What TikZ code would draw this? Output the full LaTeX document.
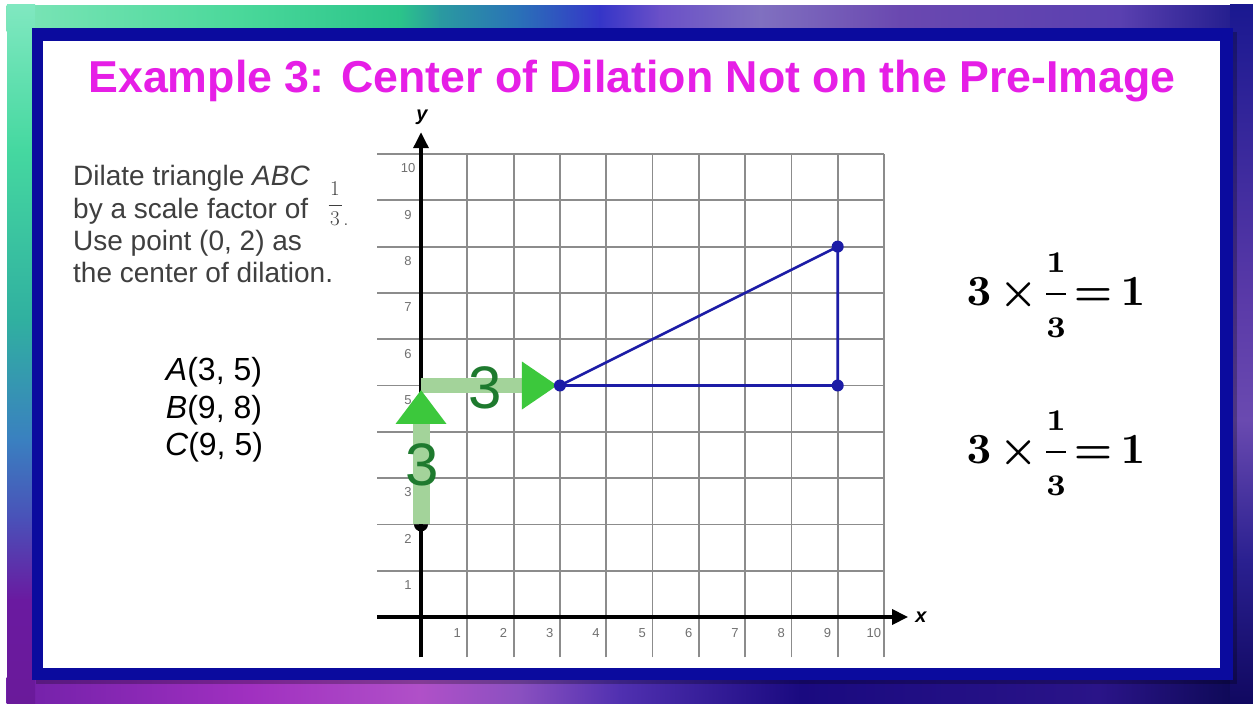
\documentclass[tikz,border=0pt]{standalone}
\usepackage{graphicx}
\usepackage{fontspec}
\newfontfamily\arial{Liberation Sans}
\usetikzlibrary{arrows.meta,shadings}
\definecolor{framebl}{HTML}{0B0B9E}
\definecolor{titlemag}{HTML}{E61EE6}
\definecolor{txtgray}{HTML}{3F3F3F}
\definecolor{ticgray}{HTML}{707070}
\definecolor{gridgray}{HTML}{8C8C8C}
\definecolor{triblue}{HTML}{1C1CA6}
\definecolor{shaftgreen}{HTML}{A3D39A}
\definecolor{headgreen}{HTML}{3CC83C}
\definecolor{numgreen}{HTML}{1E7A2E}
% background colours
\definecolor{t0}{HTML}{7DE5B8}\definecolor{t1}{HTML}{4AD89A}\definecolor{t2}{HTML}{2BC48A}
\definecolor{t3}{HTML}{2A9AA0}\definecolor{t4}{HTML}{2A70B8}\definecolor{t5}{HTML}{3535C8}
\definecolor{t6}{HTML}{6A50C8}\definecolor{t7}{HTML}{8070C0}\definecolor{t8}{HTML}{6A48B0}
\definecolor{t9}{HTML}{5A40B0}\definecolor{t10}{HTML}{1A1888}
\definecolor{l0}{HTML}{80E8C0}\definecolor{l1}{HTML}{45D8A0}\definecolor{l2}{HTML}{30B0A0}
\definecolor{l3}{HTML}{3A80C0}\definecolor{l4}{HTML}{4A50B8}\definecolor{l5}{HTML}{6A1AA0}
\definecolor{l6}{HTML}{6A1A9A}
\definecolor{b0}{HTML}{7020A8}\definecolor{b1}{HTML}{A030C0}\definecolor{b2}{HTML}{B050C8}
\definecolor{b3}{HTML}{8A50C0}\definecolor{b4}{HTML}{5030B0}\definecolor{b5}{HTML}{1A0A80}
\definecolor{b6}{HTML}{2A1488}\definecolor{b7}{HTML}{0A0850}
\definecolor{r0}{HTML}{1A1890}\definecolor{r1}{HTML}{5A3AA8}\definecolor{r2}{HTML}{6A4AB0}
\definecolor{r3}{HTML}{2A2090}\definecolor{r4}{HTML}{100860}
\newcommand{\eqtext}{\scalebox{4.3}{\medmuskip=3mu\thickmuskip=3mu\nulldelimiterspace=0pt\boldmath$\mathbf{3}\times\displaystyle{{\scriptstyle\mathbf{1}}\over{\scriptstyle\mathbf{3}}}\textstyle=\mathbf{1}$}}
\tikzset{
  gridline/.style={draw=gridgray,line width=1.8pt},
  axisline/.style={draw=black,line width=3.5pt,-{Triangle[length=16pt,width=15pt]}},
  ticklab/.style={font=\arial\fontsize{13}{15}\selectfont,text=ticgray,inner sep=0pt},
  axislab/.style={font=\arial\bfseries\itshape\fontsize{20}{22}\selectfont,inner sep=0pt},
  tri/.style={draw=triblue,line width=2.6pt,line join=round},
  vdot/.style={circle,fill=triblue,inner sep=0pt,minimum size=12pt},
  leftline/.style={anchor=base west,inner sep=0pt,font=\arial\fontsize{28}{32}\selectfont,text=txtgray},
  fracdig/.style={inner sep=0pt,font=\fontsize{21}{24}\selectfont,text=txtgray},
  ptlab/.style={inner sep=0pt,font=\arial\fontsize{32}{36}\selectfont,text=black},
  eqn/.style={inner sep=0pt,anchor=base,font=\fontsize{10}{12}\selectfont},
  bignum/.style={inner sep=0pt,font=\arial\fontsize{60}{66}\selectfont,text=numgreen},
}
\begin{document}
\begin{tikzpicture}[x=1pt,y=-1pt]
\useasboundingbox (0,0) rectangle (1253,704);
% ---------- background ----------
\fill[white] (0,0) rectangle (1253,704);
\shade[upper left=l0,upper right=r0,lower left=b0,lower right=b7] (7,5) rectangle (1253,704);
\foreach \a/\b/\ca/\cb in {7/240/t0/t1,240/400/t1/t2,400/440/t2/t3,440/520/t3/t4,520/600/t4/t5,600/660/t5/t6,660/760/t6/t7,760/900/t7/t8,900/1120/t8/t9,1120/1253/t9/t10}
  {\shade[left color=\ca,right color=\cb] (\a-0.5,5) rectangle (\b+0.5,31);}
\foreach \a/\b/\ca/\cb in {7/250/b0/b1,250/420/b1/b2,420/520/b2/b3,520/620/b3/b4,620/800/b4/b5,800/1100/b5/b6,1100/1253/b6/b7}
  {\shade[left color=\ca,right color=\cb] (\a-0.5,677) rectangle (\b+0.5,704);}
\foreach \a/\b/\ca/\cb in {5/150/l0/l1,150/320/l1/l2,320/440/l2/l3,440/520/l3/l4,520/600/l4/l5,600/704/l5/l6}
  {\shade[top color=\ca,bottom color=\cb] (7,\a-0.5) rectangle (35,\b+0.5);}
\foreach \a/\b/\ca/\cb in {5/300/r0/r1,300/420/r1/r2,420/560/r2/r3,560/704/r3/r4}
  {\shade[top color=\ca,bottom color=\cb] (1230,\a-0.5) rectangle (1253,\b+0.5);}
% ---------- frame ----------
\fill[black,opacity=0.25] (36,32) rectangle (1237,684);
\fill[framebl] (32,28) rectangle (1233,680);
\fill[white] (43,41) rectangle (1220,668);
% ---------- title ----------
\node[anchor=base,inner sep=0pt,text=titlemag,font=\arial\bfseries\fontsize{44.7}{50}\selectfont] (title) at (632,92) {Example 3: Center of Dilation Not on the Pre-Image};
% ---------- left text ----------
\node[leftline] (t1) at (73,185) {Dilate triangle \textit{ABC}};
\node[leftline] (t2) at (73,218) {by a scale factor of};
\node[leftline] (t3) at (73,250) {Use point (0, 2) as};
\node[leftline] (t4) at (73,282) {the center of dilation.};
\node[fracdig] (fn) at (335,189) {1};
\node[fracdig] (fd) at (335,219) {3};
\draw[txtgray,line width=1pt] (328.5,205) -- (341.5,205);
\node[fracdig,anchor=base] (fp) at (346,225) {.};
\node[ptlab] (pa) at (214,372) {\textit{A}(3, 5)};
\node[ptlab] (pb) at (214,410) {\textit{B}(9, 8)};
\node[ptlab] (pc) at (214,447) {\textit{C}(9, 5)};
% ---------- equations ----------
\node[eqn] (eq1) at (1056,305) {\eqtext};
\node[eqn] (eq2) at (1056,463) {\eqtext};
% ---------- graph ----------
\begin{scope}[shift={(421,617)},x=46.3pt,y=46.3pt]
  \foreach \i in {1,...,10} \draw[gridline] (\i,-0.87) -- (\i,10);
  \foreach \j in {1,...,10} \draw[gridline] (-0.95,\j) -- (10,\j);
  \foreach \i in {1,...,10} \node[ticklab] at (\i-0.22,-0.35) {\i};
  \foreach \j in {1,2,3,5,6,7,8,9,10} \node[ticklab] at (-0.28,\j-0.31) {\j};
  \coordinate (ybot) at (0,-0.87);
  \coordinate (ytop) at (0,10.47);
  \coordinate (xleft) at (-0.95,0);
  \coordinate (xright) at (10.52,0);
  \draw[axisline] (ybot) -- (ytop);
  \draw[axisline] (xleft) -- (xright);
  \node[axislab] (ylab) at (0.02,10.8) {y};
  \node[axislab] (xlab) at (10.8,0) {x};
  % points
  \coordinate (O) at (0,2);
  \coordinate (P) at (0,5);
  \coordinate (A) at (3,5);
  \coordinate (B) at (9,8);
  \coordinate (C) at (9,5);
  \coordinate (vbase) at (0,4.17);
  \coordinate (hbase) at (2.18,5);
  % green arrows
  \draw[shaftgreen,line width=15pt] (P) -- (hbase);
  \draw[shaftgreen,line width=17pt] (O) -- (vbase);
  \fill[headgreen] (vbase) ++(-25.5pt,0) -- ++(51pt,0) -- (0,4.9) -- cycle;
  \fill[headgreen] (hbase) ++(0,-24pt) -- ++(0,48pt) -- (2.94,5) -- cycle;
  \fill[black] (O) ++(-7pt,0) arc[start angle=180,end angle=360,radius=7pt] -- cycle;
  \node[bignum] (n1) at (0.02,3.28) {3};
  \node[bignum] (n2) at (1.38,4.95) {3};
  % triangle
  \draw[tri] (A) -- (B) -- (C) -- cycle;
  \node[vdot] at (A) {};
  \node[vdot] at (B) {};
  \node[vdot] at (C) {};
\end{scope}
\end{tikzpicture}
\end{document}
